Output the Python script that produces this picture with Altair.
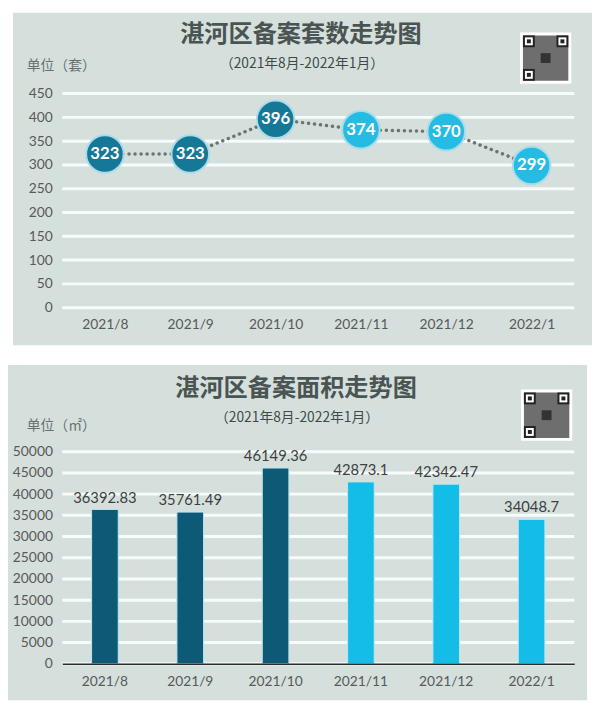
import altair as alt
import pandas as pd

# ---------------- data ----------------
months = ["2021/8", "2021/9", "2021/10", "2021/11", "2021/12", "2022/1"]
periods = ["2021年8-10月", "2021年8-10月", "2021年8-10月",
           "2021年11月-2022年1月", "2021年11月-2022年1月", "2021年11月-2022年1月"]
units = [323, 323, 396, 374, 370, 299]
areas = [36392.83, 35761.49, 46149.36, 42873.1, 42342.47, 34048.7]
area_labels = ["36392.83", "35761.49", "46149.36", "42873.1", "42342.47", "34048.7"]
unit_ticks = [0, 50, 100, 150, 200, 250, 300, 350, 400, 450]
area_ticks = [0, 5000, 10000, 15000, 20000, 25000, 30000, 35000, 40000, 45000, 50000]

title_units = "湛河区备案套数走势图"
title_areas = "湛河区备案面积走势图"
subtitle = "（2021年8月-2022年1月）"
unit_label_1 = "单位（套）"
unit_label_2 = "单位（㎡）"

# ---------------- style ----------------
BG = "#d5e0dd"
GRID = "#f6fbfb"
DARK_PT = "#147896"
LIGHT_PT = "#25bce4"
DARK_BAR = "#0c5a76"
LIGHT_BAR = "#13bde8"
TXT = "#595959"
TITLE_C = "#4a5452"
CJK = "Noto Sans CJK SC"
NUM = "Lato"

df_u = pd.DataFrame({"month": months, "period": periods, "units": units})
df_a = pd.DataFrame({"month": months, "period": periods, "area": areas, "label": area_labels})
one = pd.DataFrame({"k": [0]})

W = 519
H1, H2 = 217, 215


def decorations(x0, x1, y0, y1, tx, ty, sy, title, unit_text, uy, qx, qy):
    bg = alt.Chart(one).mark_rect(color=BG).encode(
        x=alt.value(x0), x2=alt.value(x1), y=alt.value(y0), y2=alt.value(y1))
    t = alt.Chart(one).mark_text(text=title, font=CJK, fontSize=24.5, fontWeight="bold",
                                 color=TITLE_C, align="center", baseline="middle").encode(
        x=alt.value(tx), y=alt.value(ty))
    st = alt.Chart(one).mark_text(text=subtitle, font=CJK, fontSize=14, color="#3f4a48",
                                  align="center", baseline="middle").encode(
        x=alt.value(tx + 1), y=alt.value(sy))
    ut = alt.Chart(one).mark_text(text=unit_text, font=CJK, fontSize=14, color="#6a706f",
                                  align="left", baseline="middle").encode(
        x=alt.value(-36), y=alt.value(uy))
    # QR code placeholder
    q_out = alt.Chart(one).mark_rect(color="white").encode(
        x=alt.value(qx), x2=alt.value(qx + 52), y=alt.value(qy), y2=alt.value(qy + 52))
    q_in = alt.Chart(one).mark_rect(color="#6e6e6e").encode(
        x=alt.value(qx + 3), x2=alt.value(qx + 49), y=alt.value(qy + 3), y2=alt.value(qy + 49))
    finders = []
    for fx, fy in [(qx + 3, qy + 3), (qx + 37, qy + 3), (qx + 3, qy + 37)]:
        finders.append(alt.Chart(one).mark_rect(color="#222222").encode(
            x=alt.value(fx), x2=alt.value(fx + 12), y=alt.value(fy), y2=alt.value(fy + 12)))
        finders.append(alt.Chart(one).mark_rect(color="white").encode(
            x=alt.value(fx + 2), x2=alt.value(fx + 10), y=alt.value(fy + 2), y2=alt.value(fy + 10)))
        finders.append(alt.Chart(one).mark_rect(color="#222222").encode(
            x=alt.value(fx + 4), x2=alt.value(fx + 8), y=alt.value(fy + 4), y2=alt.value(fy + 8)))
    centre = alt.Chart(one).mark_rect(color="#333333").encode(
        x=alt.value(qx + 21), x2=alt.value(qx + 31), y=alt.value(qy + 21), y2=alt.value(qy + 31))
    return [bg, t, st, ut, q_out, q_in] + finders + [centre]


color_scale = alt.Scale(domain=["2021年8-10月", "2021年11月-2022年1月"], range=[DARK_PT, LIGHT_PT])
bar_scale = alt.Scale(domain=["2021年8-10月", "2021年11月-2022年1月"], range=[DARK_BAR, LIGHT_BAR])

# ---------------- top chart ----------------
x_top = alt.X("month:N", sort=months, scale=alt.Scale(type="point", padding=0.5),
              axis=alt.Axis(title=None, labelAngle=0, labelFont=NUM, labelFontSize=14,
                            labelColor=TXT, labelPadding=10, domain=False, ticks=False,
                            grid=False, zindex=1))
y_top = alt.Y("units:Q", scale=alt.Scale(domain=[0, 450]),
              axis=alt.Axis(title=None, values=unit_ticks, format="d", labelFont=NUM,
                            labelFontSize=14, labelColor=TXT, labelPadding=10, domain=False,
                            ticks=False, grid=False, zindex=1))

grid_top = alt.Chart(pd.DataFrame({"units": unit_ticks})).mark_rule(
    color=GRID, strokeWidth=3).encode(y=y_top, x=alt.value(0), x2=alt.value(W))

line_top = alt.Chart(df_u).mark_line(color="#6b7373", strokeWidth=3.5, strokeDash=[0.1, 6],
                                     strokeCap="round").encode(x=x_top, y=y_top)
pts_top = alt.Chart(df_u).mark_point(filled=True, size=1450, opacity=1, stroke="#a9dcea",
                                     strokeWidth=2).encode(
    x=x_top, y=y_top,
    color=alt.Color("period:N", scale=color_scale, legend=None))
lbl_top = alt.Chart(df_u).mark_text(color="white", font=NUM, fontSize=17, fontWeight="bold",
                                    baseline="middle").encode(
    x=x_top, y=y_top, text="units:Q")

top = alt.layer(
    *decorations(-50, 537, -82, 255, 242, -59, -30, title_units, unit_label_1, -28, 464, -62),
    grid_top, line_top, pts_top, lbl_top
).properties(width=W, height=H1)

# ---------------- bottom chart ----------------
x_bot = alt.X("month:N", sort=months, scale=alt.Scale(paddingInner=0, paddingOuter=0),
              axis=alt.Axis(title=None, labelAngle=0, labelFont=NUM, labelFontSize=14,
                            labelColor=TXT, labelPadding=11, domain=True,
                            domainColor="#2b2b2b", domainWidth=1.5, ticks=False,
                            grid=False, zindex=1))
y_bot = alt.Y("area:Q", scale=alt.Scale(domain=[0, 50000]),
              axis=alt.Axis(title=None, values=area_ticks, format="d", labelFont=NUM,
                            labelFontSize=14, labelColor=TXT, labelPadding=10, domain=False,
                            ticks=False, grid=False, zindex=1))

grid_bot = alt.Chart(pd.DataFrame({"area": area_ticks})).mark_rule(
    color=GRID, strokeWidth=3).encode(y=y_bot, x=alt.value(0), x2=alt.value(W))

bars = alt.Chart(df_a).mark_bar(size=27, stroke="#bfe6ef", strokeWidth=1).encode(
    x=x_bot, y=y_bot,
    color=alt.Color("period:N", scale=bar_scale, legend=None))
lbl_bot = alt.Chart(df_a).mark_text(dy=-12, font=NUM, fontSize=15, color="#404040",
                                    baseline="middle").encode(
    x=x_bot, y=y_bot, text="label:N")

bottom = alt.layer(
    *decorations(-55, 532, -88, 252, 237, -63, -34, title_areas, unit_label_2, -26, 465, -63),
    grid_bot, bars, lbl_bot
).properties(width=W, height=H2)

chart = alt.vconcat(top, bottom, spacing=20).resolve_scale(
    color="independent"
).properties(
    padding=0, background="white"
).configure_view(strokeWidth=0)

chart.save("out.html", embed_options={"renderer": "svg", "actions": False})
